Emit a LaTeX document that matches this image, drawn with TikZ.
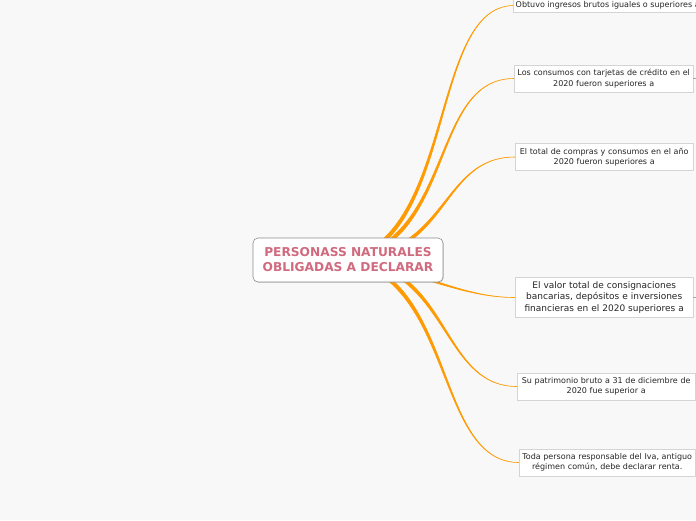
\documentclass[tikz,border=0pt]{standalone}
\usepackage{fontspec}
\setmainfont{DejaVu Sans}
\usetikzlibrary{shadows}
\definecolor{paper}{HTML}{F8F8F8}
\definecolor{branchorange}{HTML}{FF9A00}
\definecolor{rootred}{HTML}{D06A7E}
\definecolor{leafline}{HTML}{D4D4D4}
\pgfdeclarelayer{bg}
\pgfsetlayers{bg,main}

\begin{document}
\begin{tikzpicture}[x=1pt, y=-1pt,
  root/.style={rectangle, rounded corners=5pt, draw=black!45, fill=white, line width=0.6pt,
    text=rootred, font=\fontsize{12.2}{15}\selectfont\bfseries, align=center,
    minimum width=190pt, minimum height=44pt, inner sep=2pt,
    drop shadow={shadow xshift=0.8pt, shadow yshift=-0.8pt, opacity=0.25}},
  leaf/.style={rectangle, draw=leafline, fill=white, line width=0.4pt, anchor=west,
    text=black!85, font=\fontsize{8}{10.3}\selectfont, align=center,
    text width=174pt, inner xsep=2.5pt, inner ysep=4.3pt,
    drop shadow={shadow xshift=0.8pt, shadow yshift=-0.9pt, opacity=0.35}},
  bigleaf/.style={leaf, font=\fontsize{9}{11.5}\selectfont, inner ysep=4pt},
  branch/.style={fill=branchorange, draw=branchorange, line width=0.6pt, line join=round},
  stub/.style={draw=black!35, line width=0.5pt},
]
  \useasboundingbox (0,0) rectangle (696,520);

  \node[root] (root) at (348,260) {PERSONASS NATURALES\\OBLIGADAS A DECLARAR};

  \node[leaf, text width=, inner ysep=3pt] (ingresos) at (513,5.5) {Obtuvo ingresos brutos iguales o superiores a};
  \node[leaf] (tarjetas) at (514,78.5) {Los consumos con tarjetas de crédito en el\\2020 fueron superiores a};
  \node[leaf, text width=173pt] (compras) at (515,157) {El total de compras y consumos en el año\\2020 fueron superiores a};
  \node[bigleaf, text width=173pt] (consignaciones) at (515,297.5) {El valor total de consignaciones\\bancarias, depósitos e inversiones\\financieras en el 2020 superiores a};
  \node[leaf, text width=173pt] (patrimonio) at (517,386.5) {Su patrimonio bruto a 31 de diciembre de\\2020 fue superior a};
  \node[leaf, text width=171pt] (iva) at (519,462.5) {Toda persona responsable del Iva, antiguo\\régimen común, debe declarar renta.};

  \coordinate (tarjetasout) at (700,78.5);
  \coordinate (consignacionesout) at (700,297.5);

  \begin{pgfonlayer}{bg}
    \fill[paper] (0,0) rectangle (696,520);
    % branches, thick at the root and thin at the leaf
    \path[branch] ([shift={(1.3,1.3)}]root.center) .. controls +(107,-25) and +(-83,2) .. (ingresos.west)
      .. controls +(-83,2) and +(107,-25) .. ([shift={(-1.3,-1.3)}]root.center) -- cycle;
    \path[branch] ([shift={(1.3,1.3)}]root.center) .. controls +(107,-20) and +(-84,0) .. (tarjetas.west)
      .. controls +(-84,0) and +(107,-20) .. ([shift={(-1.3,-1.3)}]root.center) -- cycle;
    \path[branch] ([shift={(1.3,1.3)}]root.center) .. controls +(102,-5) and +(-75,0) .. (compras.west)
      .. controls +(-75,0) and +(102,-5) .. ([shift={(-1.3,-1.3)}]root.center) -- cycle;
    \path[branch] ([shift={(0,1.6)}]root.center) .. controls +(70,10) and +(-55,0) .. (consignaciones.west)
      .. controls +(-55,0) and +(70,10) .. ([shift={(0,-1.6)}]root.center) -- cycle;
    \path[branch] ([shift={(1.3,-1.3)}]root.center) .. controls +(102,5) and +(-77,0) .. (patrimonio.west)
      .. controls +(-77,0) and +(102,5) .. ([shift={(-1.3,1.3)}]root.center) -- cycle;
    \path[branch] ([shift={(1.3,-1.3)}]root.center) .. controls +(107,20) and +(-84,0) .. (iva.west)
      .. controls +(-84,0) and +(107,20) .. ([shift={(-1.3,1.3)}]root.center) -- cycle;
  \end{pgfonlayer}

  \draw[stub] (tarjetas.east) -- (tarjetasout);
  \draw[stub] (consignaciones.east) -- (consignacionesout);
\end{tikzpicture}
\end{document}
